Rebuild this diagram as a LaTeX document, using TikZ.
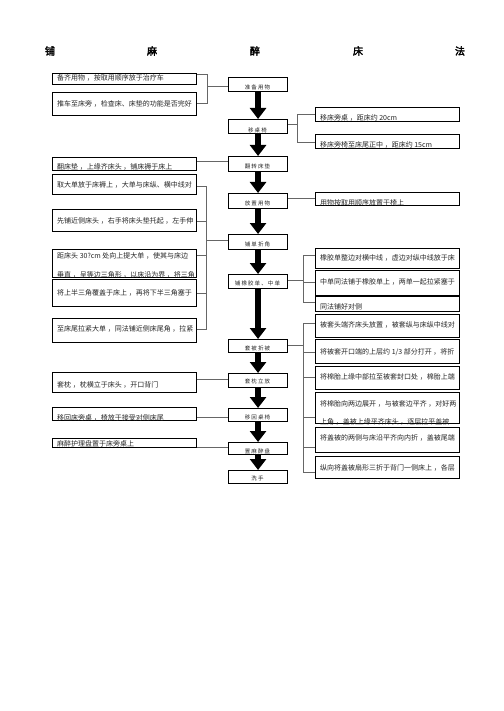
\documentclass[tikz,border=0pt]{standalone}
\usepackage{fontspec}
\setmainfont{Noto Sans CJK SC}
\newfontfamily\titlefont{Noto Sans CJK SC}[FakeBold=3]
\newfontfamily\centfont{Noto Sans CJK SC}[LetterSpace=20]
\usetikzlibrary{arrows.meta,calc}
\newcommand\mybox[6]{%
  \node[boxst,minimum width=#4pt,minimum height=#5pt] (#1) at (#2,#3) {};
  \begin{scope}\clip (#1.south west) rectangle (#1.north east); #6 \end{scope}}
\begin{document}
\begin{tikzpicture}[x=1pt,y=-1pt,
  boxst/.style={draw=black,line width=1.1pt,anchor=north west,inner sep=0pt},
  txt/.style={font=\fontsize{7}{8}\selectfont,anchor=west,inner sep=0pt,text=black!85},
  ctxt/.style={font=\centfont\fontsize{5.5}{6}\selectfont,inner sep=0pt,text=black!85},
  ttl/.style={font=\titlefont\fontsize{10}{12}\selectfont,inner sep=0pt},
  conn/.style={draw=black!60,line width=0.8pt},
  bigarrow/.style={line width=6.5pt,-{Triangle[width=16pt,length=11pt]}},
]
\path[fill=white] (0,0) rectangle (503,711);
\useasboundingbox (0,0) rectangle (503,711);
% title
\node[ttl] (t1) at (50,51) {铺};
\node[ttl] (t2) at (152,51) {麻};
\node[ttl] (t3) at (255,51) {醉};
\node[ttl] (t4) at (358,51) {床};
\node[ttl] (t5) at (460,51) {法};
% left boxes
\mybox{L1}{52}{73}{144}{11}{\node[txt] (L1t) at (57,78.3) {备齐用物 ，按取用顺序放于治疗车};}
\mybox{L2}{52}{92}{144}{23}{\node[txt] (L2t) at (57,103.5) {推车至床旁 ，检查床、床垫的功能是否完好};}
\mybox{L3}{52}{157}{144}{13}{\node[txt] (L3t) at (57,167) {翻床垫 ，上缘齐床头 ，铺床褥于床上};}
\mybox{L4}{52}{174}{144}{20}{\node[txt] (L4t) at (57,185) {取大单放于床褥上 ，大单与床纵、横中线对};}
\mybox{L5}{52}{209}{144}{22}{\node[txt] (L5t) at (57,221) {先铺近侧床头 ，右手将床头垫托起 ，左手伸};}
\mybox{L6}{52}{249}{144}{28}{\node[txt] (L6t) at (57,256) {距床头 30?cm 处向上提大单 ，使其与床边};
  \node[txt] (L6u) at (57,275) {垂直 ，呈等边三角形 ，以床沿为界 ，将三角};}
\mybox{L7}{52}{279}{144}{27}{\node[txt] (L7t) at (57,293) {将上半三角覆盖于床上 ，再将下半三角塞于};}
\mybox{L8}{52}{318}{144}{24}{\node[txt] (L8t) at (57,329) {至床尾拉紧大单 ，同法铺近侧床尾角 ，拉紧};}
\mybox{L9}{52}{372}{144}{20}{\node[txt] (L9t) at (57,385) {套枕 ，枕横立于床头 ，开口背门};}
\mybox{L10}{52}{407}{144}{13}{\node[txt] (L10t) at (57,418) {移回床旁桌 ，椅放于接受对侧床尾};}
\mybox{L11}{52}{438}{144}{9}{\node[txt] (L11t) at (57,444) {麻醉护理盘置于床旁桌上};}
% center boxes
\mybox{C1}{228}{77}{59}{14}{\node[ctxt] (C1t) at (257.5,87) {准备用物};}
\mybox{C2}{228}{119}{59}{14}{\node[ctxt] (C2t) at (257.5,130) {移桌椅};}
\mybox{C3}{228}{156}{59}{15}{\node[ctxt] (C3t) at (257.5,166) {翻转床垫};}
\mybox{C4}{228}{193}{59}{15}{\node[ctxt] (C4t) at (257.5,203) {放置用物};}
\mybox{C5}{228}{234}{59}{15}{\node[ctxt] (C5t) at (257.5,244) {铺单折角};}
\mybox{C6}{228}{274}{59}{14}{\node[ctxt] (C6t) at (257.5,283) {铺橡胶单、中单};}
\mybox{C7}{228}{339}{59}{13}{\node[ctxt] (C7t) at (257.5,348) {套被折被};}
\mybox{C8}{228}{373}{59}{14}{\node[ctxt] (C8t) at (257.5,381) {套枕立放};}
\mybox{C9}{228}{408}{59}{13}{\node[ctxt] (C9t) at (257.5,417) {移回桌椅};}
\mybox{C10}{228}{442}{59}{12}{\node[ctxt] (C10t) at (257.5,451) {置麻醉盘};}
\mybox{C11}{228}{470}{59}{13}{\node[ctxt] (C11t) at (257.5,478) {洗手};}
% right boxes
\mybox{R1}{315}{107}{144}{14}{\node[txt] (R1t) at (320,118) {移床旁桌 ，距床约 20cm};}
\mybox{R2}{315}{134}{144}{14}{\node[txt] (R2t) at (320,145) {移床旁椅至床尾正中 ，距床约 15cm};}
\mybox{R3}{315}{192}{144}{13}{\node[txt] (R3t) at (320,203) {用物按取用顺序放置于椅上};}
\mybox{R4}{315}{248}{144}{20}{\node[txt] (R4t) at (320,258) {橡胶单整边对横中线 ，虚边对纵中线放于床};}
\mybox{R5}{315}{270}{144}{25}{\node[txt] (R5t) at (320,282) {中单同法铺于橡胶单上 ，两单一起拉紧塞于};}
\mybox{R6}{315}{296}{144}{15}{\node[txt] (R6t) at (320,307) {同法铺好对侧};}
\mybox{R7}{315}{314}{144}{23}{\node[txt] (R7t) at (320,325) {被套头端齐床头放置 ，被套纵与床纵中线对};}
\mybox{R8}{315}{339}{144}{24}{\node[txt] (R8t) at (320,352) {将被套开口端的上层约 1/3 部分打开 ，将折};}
\mybox{R9}{315}{366}{144}{23}{\node[txt] (R9t) at (320,377) {将棉胎上缘中部拉至被套封口处 ，棉胎上端};}
\mybox{R10}{315}{392}{144}{31}{\node[txt] (R10t) at (320,404) {将棉胎向两边展开 ，与被套边平齐 ，对好两};
  \node[txt] (R10u) at (320,422) {上角 ，盖被上缘平齐床头 ，逐层拉平盖被};}
\mybox{R11}{315}{427}{144}{25}{\node[txt] (R11t) at (320,438) {将盖被的两侧与床沿平齐向内折 ，盖被尾端};}
\mybox{R12}{315}{456}{144}{22}{\node[txt] (R12t) at (320,468) {纵向将盖被扇形三折于背门一侧床上 ，各层};}
% big arrows
\draw[bigarrow] (C1.south) -- (C2.north);
\draw[bigarrow] (C2.south) -- (C3.north);
\draw[bigarrow] (C3.south) -- (C4.north);
\draw[bigarrow] (C4.south) -- (C5.north);
\draw[bigarrow] (C5.south) -- (C6.north);
\draw[bigarrow] (C6.south) -- (C7.north);
\draw[bigarrow] (C7.south) -- (C8.north);
\draw[bigarrow] (C8.south) -- (C9.north);
\draw[bigarrow] (C9.south) -- (C10.north);
\draw[bigarrow] (C10.south) -- (C11.north);
% connectors left
\coordinate (ja1) at (207,74); \coordinate (ja2) at (207,103); \coordinate (ja) at (207,86.7);
\draw[conn] (L1.east|-ja1) -- (ja1) -- (ja2) -- (L2.east|-ja2);
\draw[conn] (ja) -- (C1.west|-ja);
\coordinate (jl3) at (0,161);
\draw[conn] (L3.east|-jl3) -- (C3.west|-jl3);
\coordinate (jb4) at (206,186); \coordinate (jb8) at (206,329); \coordinate (jb) at (206,240);
\coordinate (jb5) at (206,221); \coordinate (jb6) at (206,255); \coordinate (jb7) at (206,293);
\draw[conn] (L4.east|-jb4) -- (jb4) -- (jb8) -- (L8.east|-jb8);
\draw[conn] (L5.east|-jb5) -- (jb5);
\draw[conn] (L6.east|-jb6) -- (jb6);
\draw[conn] (L7.east|-jb7) -- (jb7);
\draw[conn] (jb) -- (C5.west|-jb);
\coordinate (jl9) at (0,379); \coordinate (jl10) at (0,417); \coordinate (jl11) at (0,447);
\draw[conn] (L9.east|-jl9) -- (C8.west|-jl9);
\draw[conn] (L10.east|-jl10) -- (C9.west|-jl10);
\draw[conn] (L11.east|-jl11) -- (C10.west|-jl11);
% connectors right
\coordinate (jc1) at (297,114); \coordinate (jc2) at (297,142); \coordinate (jc) at (297,124);
\draw[conn] (R1.west|-jc1) -- (jc1) -- (jc2) -- (R2.west|-jc2);
\draw[conn] (C2.east|-jc) -- (jc);
\coordinate (jr3) at (0,198);
\draw[conn] (C4.east|-jr3) -- (R3.west|-jr3);
\coordinate (jd4) at (303,255); \coordinate (jd6) at (303,302); \coordinate (jd5) at (303,282); \coordinate (jd) at (303,280);
\draw[conn] (R4.west|-jd4) -- (jd4) -- (jd6) -- (R6.west|-jd6);
\draw[conn] (R5.west|-jd5) -- (jd5);
\draw[conn] (C6.east|-jd) -- (jd);
\coordinate (je7) at (303,323); \coordinate (je12) at (303,472); \coordinate (je) at (303,345);
\coordinate (je8) at (303,352); \coordinate (je9) at (303,377); \coordinate (je10) at (303,417); \coordinate (je11) at (303,447);
\draw[conn] (R7.west|-je7) -- (je7) -- (je12) -- (R12.west|-je12);
\draw[conn] (R8.west|-je8) -- (je8);
\draw[conn] (R9.west|-je9) -- (je9);
\draw[conn] (R10.west|-je10) -- (je10);
\draw[conn] (R11.west|-je11) -- (je11);
\draw[conn] (C7.east|-je) -- (je);
\end{tikzpicture}
\end{document}
